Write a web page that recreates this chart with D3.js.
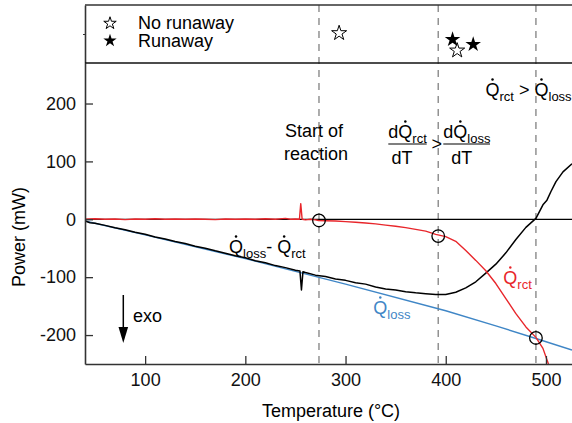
<!DOCTYPE html>
<html>
<head>
<meta charset="utf-8">
<script src="https://cdn.jsdelivr.net/npm/d3@7"></script>
<style>
  html, body { margin: 0; padding: 0; background: #fff; }
  svg { display: block; font-family: "Liberation Sans", Arial, sans-serif; }
  text { white-space: pre; }
</style>
</head>
<body>
<svg id="chart" width="572" height="423"></svg>
<script>
// Axis ticks
const tempTicks = [100, 200, 300, 400, 500];
const powerTicks = [-200, -100, 0, 100, 200];

// Heat loss of the vessel, Q_loss (mW) vs temperature (°C)
const lossT = [40, 100, 200, 300, 400, 450, 490, 526];
const lossP = [-3, -27, -68, -112, -158, -184, -206, -226];

// Reaction heat, Q_rct
const rctT = [40, 50, 60, 70, 80, 90, 100, 110, 120, 130, 140, 150, 160, 170, 180, 190, 200, 210, 220, 230, 240, 245, 250, 254, 255.3, 256.7, 260, 265, 270, 273, 280, 290, 300, 310, 320, 330, 340, 350, 360, 370, 380, 390, 400, 410, 420, 430, 440, 450, 460, 470, 480, 490, 497, 502.5, 506];
const rctP = [0, 1, 0, 0.5, -0.5, 0.5, 0, 1, 0, 0.5, 0, 0.5, 0, -0.5, 0.5, 0, 0.5, 0, 1, 0, 1.5, 0, 0.5, 0, 27, 0, -1, 0, -1, -2, -2.5, -3, -4, -5, -6.5, -8, -10, -12, -14.5, -17.5, -20.5, -26, -30, -38, -54, -71, -89, -111, -137, -163, -186, -204, -223, -250, -265];

// Measured net power, Q_loss - Q_rct
const netT = [40, 45, 50, 60, 70, 80, 90, 100, 110, 120, 130, 140, 150, 160, 170, 180, 190, 200, 210, 220, 230, 240, 250, 254.5, 256, 257.5, 260, 270, 280, 290, 300, 310, 320, 330, 340, 350, 360, 370, 380, 390, 400, 410, 420, 430, 440, 450, 460, 470, 480, 490, 497, 501, 505, 510, 517, 526];
const netP = [-3, -6, -7, -10.5, -14.5, -18, -22.5, -26, -30.5, -34, -38.5, -42, -46.5, -50, -54.5, -58.5, -63, -66.5, -71.5, -75, -80, -83.5, -88, -89.5, -122, -90.5, -92, -96.5, -99, -103, -105.5, -109.5, -112, -117, -120.5, -122, -125, -127, -128.5, -130, -130, -126, -118.5, -108, -93, -77.5, -58, -35, -14, 1.5, 25, 33, 48, 65, 82, 96];

// Characteristic temperatures: start of reaction, slope criterion, heat balance
const eventT = [273.5, 392.5, 490];
const eventP = [-2, -29, -205];

// Onset observations in the upper strip
const noRunawayT = [293.6, 411.4];
const noRunawayY = [1.03, 0.43];
const runawayT = [406.8, 427.4];
const runawayY = [0.81, 0.64];

const svg = d3.select("#chart");
const W = 572;
const left = 85, bottom = 364, mainTop = 63, stripTop = 5;
const axisColor = "#333";
const red = "#e8262b", blue = "#3f86c6";

const x = d3.scaleLinear().domain([40, 526]).range([left, W]);
const y = d3.scaleLinear().domain([-250, 270]).range([bottom, mainTop]);
const yStrip = d3.scaleLinear().domain([0, 2]).range([mainTop, stripTop]);

svg.append("defs").append("clipPath").attr("id", "plot")
  .append("rect").attr("x", left).attr("y", mainTop).attr("width", W - left).attr("height", bottom - mainTop);

// Dashed markers through both panels
svg.append("g").selectAll("line").data(eventT).join("line")
  .attr("x1", d => x(d)).attr("x2", d => x(d))
  .attr("y1", stripTop).attr("y2", bottom)
  .attr("stroke", "#8a8a8a").attr("stroke-width", 1.4).attr("stroke-dasharray", "7,6");

// Zero line
svg.append("line").attr("x1", left).attr("x2", W).attr("y1", y(0)).attr("y2", y(0))
  .attr("stroke", "#000").attr("stroke-width", 1.3);

const plot = svg.append("g").attr("clip-path", "url(#plot)");
const line = d3.line().x(d => x(d[0])).y(d => y(d[1]));

plot.append("path").datum(d3.zip(lossT, lossP)).attr("d", line)
  .attr("fill", "none").attr("stroke", blue).attr("stroke-width", 1.4);
plot.append("path").datum(d3.zip(netT, netP)).attr("d", line)
  .attr("fill", "none").attr("stroke", "#000").attr("stroke-width", 1.5).attr("stroke-linejoin", "round");
plot.append("path").datum(d3.zip(rctT, rctP)).attr("d", line)
  .attr("fill", "none").attr("stroke", red).attr("stroke-width", 1.4).attr("stroke-linejoin", "round");

// Event circles
svg.append("g").selectAll("circle").data(d3.zip(eventT, eventP)).join("circle")
  .attr("cx", d => x(d[0])).attr("cy", d => y(d[1])).attr("r", 6.3)
  .attr("fill", "none").attr("stroke", "#000").attr("stroke-width", 1.3);

// Axes (plain hyphen for negative numbers)
const fmt = d => String(d);
const xAxis = d3.axisBottom(x).tickValues(tempTicks).tickFormat(fmt).tickSizeInner(-8).tickSizeOuter(0).tickPadding(9);
const gx = svg.append("g").attr("transform", `translate(0,${bottom})`).call(xAxis);
const yAxis = d3.axisLeft(y).tickValues(powerTicks).tickFormat(fmt).tickSizeInner(-8).tickSizeOuter(0).tickPadding(9);
const gy = svg.append("g").attr("transform", `translate(${left},0)`).call(yAxis);
[gx, gy].forEach(g => {
  g.select(".domain").attr("stroke", axisColor).attr("stroke-width", 1.6);
  g.selectAll(".tick line").attr("stroke", axisColor).attr("stroke-width", 1.3);
  g.selectAll(".tick text").attr("font-size", 18).attr("fill", "#111")
    .attr("font-family", "Liberation Sans, Arial, sans-serif");
});

// Upper strip frame
const stripAxis = d3.axisLeft(yStrip).tickValues([1]).tickSizeInner(2).tickSizeOuter(0).tickFormat("");
const gs = svg.append("g").attr("transform", `translate(${left},0)`).call(stripAxis);
gs.select(".domain").attr("stroke", axisColor).attr("stroke-width", 1.6);
gs.selectAll(".tick line").attr("stroke", axisColor);
svg.append("line").attr("x1", left).attr("x2", W).attr("y1", stripTop).attr("y2", stripTop)
  .attr("stroke", axisColor).attr("stroke-width", 1.3);
svg.append("line").attr("x1", left).attr("x2", W).attr("y1", mainTop).attr("y2", mainTop)
  .attr("stroke", "#111").attr("stroke-width", 1.6);

// Stars
const star = d3.symbol().type(d3.symbolStar);
svg.append("g").selectAll("path").data(d3.zip(noRunawayT, noRunawayY)).join("path")
  .attr("d", star.size(70)()).attr("transform", d => `translate(${x(d[0])},${yStrip(d[1])})`)
  .attr("fill", "#fff").attr("stroke", "#000").attr("stroke-width", 1);
svg.append("g").selectAll("path").data(d3.zip(runawayT, runawayY)).join("path")
  .attr("d", star.size(75)()).attr("transform", d => `translate(${x(d[0])},${yStrip(d[1])})`)
  .attr("fill", "#000");

// Legend
const legend = svg.append("g");
legend.append("path").attr("d", star.size(48)()).attr("transform", "translate(110,23.3)")
  .attr("fill", "#fff").attr("stroke", "#000").attr("stroke-width", 1);
legend.append("path").attr("d", star.size(55)()).attr("transform", "translate(110,40.7)")
  .attr("fill", "#000");
legend.append("text").attr("x", 138).attr("y", 28.5).attr("font-size", 18).text("No runaway");
legend.append("text").attr("x", 138).attr("y", 47).attr("font-size", 18).text("Runaway");

// Axis titles
svg.append("text").attr("x", 331).attr("y", 417).attr("text-anchor", "middle")
  .attr("font-size", 18).text("Temperature (°C)");
svg.append("text").attr("transform", "translate(25,237) rotate(-90)").attr("text-anchor", "middle")
  .attr("font-size", 18).text("Power (mW)");

// Labels with dotted Q (heat flow) and subscripts
function qText(x0, y0, parts, fill) {
  const t = svg.append("text").attr("x", x0).attr("y", y0).attr("font-size", 18).attr("fill", fill);
  let shift = 0;
  parts.forEach(p => {
    if (typeof p === "string") {
      t.append("tspan").attr("dy", -shift).text(p);
      shift = 0;
    } else {
      t.append("tspan").attr("dy", -shift).text(p[0]);
      t.append("tspan").attr("dy", 5).attr("font-size", 13).text(p[1]);
      shift = 5;
    }
  });
  const node = t.node();
  const s = node.textContent;
  for (let i = 0; i < s.length; i++) {
    if (s[i] === "Q") {
      const e = node.getExtentOfChar(i);
      svg.append("circle").attr("cx", e.x + e.width / 2).attr("cy", y0 - 16.5)
        .attr("r", 1.25).attr("fill", fill);
    }
  }
  return t;
}

qText(485.5, 96, [["Q", "rct"], " > ", ["Q", "loss"]], "#000");
qText(229, 253, [["Q", "loss"], "- ", ["Q", "rct"]], "#000");
qText(503.3, 284, [["Q", "rct"]], red);
qText(373.3, 314, [["Q", "loss"]], blue);

// Start of reaction
svg.append("text").attr("x", 285).attr("y", 136.5).attr("font-size", 18).text("Start of");
svg.append("text").attr("x", 284).attr("y", 160).attr("font-size", 18).text("reaction");

// Slope criterion as fractions
qText(388.3, 138, ["d", ["Q", "rct"]], "#000");
qText(443.3, 138, ["d", ["Q", "loss"]], "#000");
svg.append("line").attr("x1", 388.3).attr("x2", 426.7).attr("y1", 144).attr("y2", 144)
  .attr("stroke", "#000").attr("stroke-width", 1.1);
svg.append("line").attr("x1", 443.3).attr("x2", 490).attr("y1", 144).attr("y2", 144)
  .attr("stroke", "#000").attr("stroke-width", 1.1);
svg.append("text").attr("x", 402).attr("y", 163.5).attr("text-anchor", "middle").attr("font-size", 18).text("dT");
svg.append("text").attr("x", 461.7).attr("y", 163.5).attr("text-anchor", "middle").attr("font-size", 18).text("dT");
svg.append("text").attr("x", 431.5).attr("y", 149.5).attr("font-size", 18).text(">");

// Exothermic direction
svg.append("line").attr("x1", 123.3).attr("x2", 123.3).attr("y1", 295).attr("y2", 330)
  .attr("stroke", "#000").attr("stroke-width", 1.5);
svg.append("path").attr("d", "M118.5,327 L128.1,327 L123.3,343 Z").attr("fill", "#000");
svg.append("text").attr("x", 133).attr("y", 322).attr("font-size", 18).text("exo");
</script>
</body>
</html>
